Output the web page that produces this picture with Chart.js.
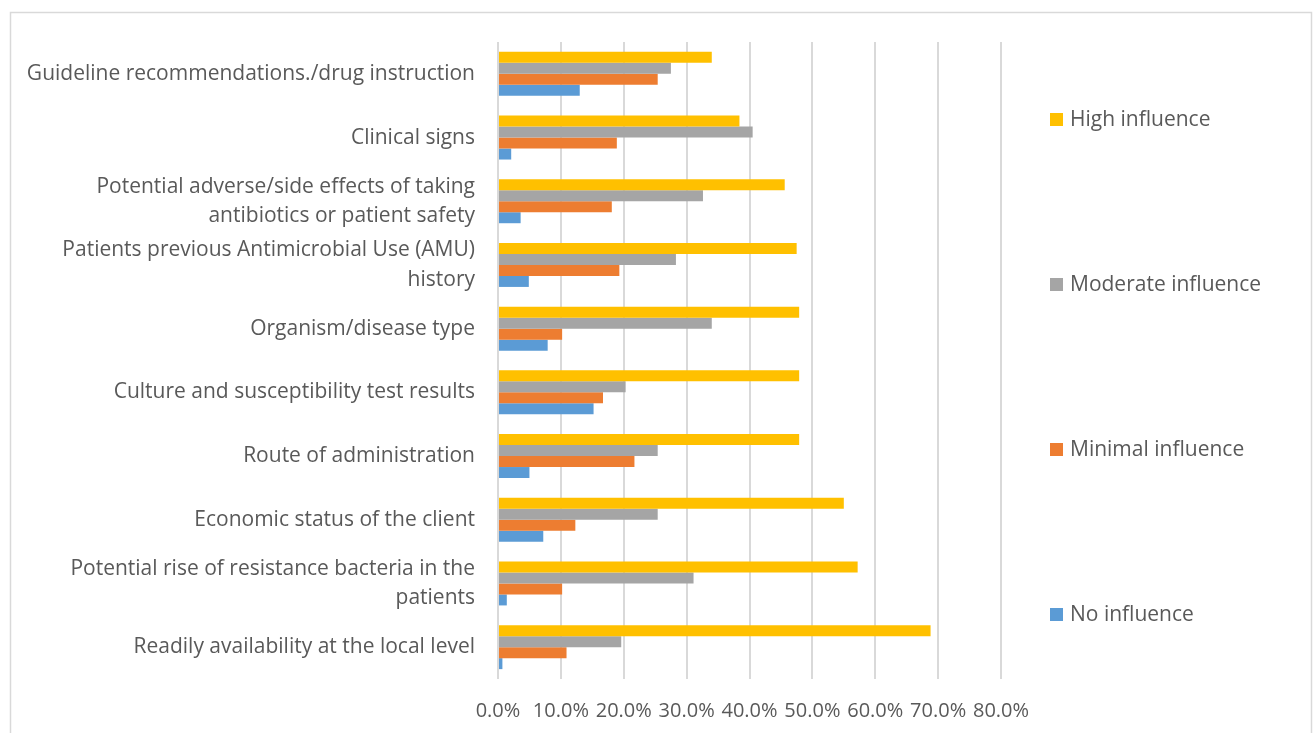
<!DOCTYPE html>
<html>
<head>
<meta charset="utf-8">
<script src="https://cdn.jsdelivr.net/npm/chart.js@4/dist/chart.umd.min.js"></script>
<style>
  html, body { margin: 0; padding: 0; background: #ffffff; }
  #wrap { width: 1314px; height: 733px; position: relative; }
</style>
</head>
<body>
<div id="wrap"><canvas id="c" width="1314" height="733"></canvas></div>
<script>
// Factors influencing antibiotic choice (share of respondents, %)
const categories = [
  'Guideline recommendations./drug instruction',
  'Clinical signs',
  ['Potential adverse/side effects of taking', 'antibiotics or patient safety'],
  ['Patients previous Antimicrobial Use (AMU)', 'history'],
  'Organism/disease type',
  'Culture and susceptibility test results',
  'Route of administration',
  'Economic status of the client',
  ['Potential rise of resistance bacteria in the', 'patients'],
  'Readily availability at the local level'
];

const highInfluence     = [34.0, 38.4, 45.6, 47.5, 47.9, 47.9, 47.9, 55.0, 57.2, 68.8];
const moderateInfluence = [27.5, 40.5, 32.6, 28.3, 34.0, 20.3, 25.4, 25.4, 31.1, 19.6];
const minimalInfluence  = [25.4, 18.9, 18.1, 19.3, 10.2, 16.7, 21.7, 12.3, 10.2, 10.9];
const noInfluence       = [13.0,  2.1,  3.6,  4.9,  7.9, 15.2,  5.0,  7.2,  1.4,  0.7];

const seriesNames = ['High influence', 'Moderate influence', 'Minimal influence', 'No influence'];
const xTicks = [0, 10, 20, 30, 40, 50, 60, 70, 80];

const FONT = '"Open Sans", "DejaVu Sans", sans-serif';
const TEXT = '#595959';

// Outer frame around the whole chart
const framePlugin = {
  id: 'frame',
  beforeDraw(chart) {
    const ctx = chart.ctx;
    ctx.save();
    ctx.fillStyle = '#ffffff';
    ctx.fillRect(0, 0, chart.width, chart.height);
    ctx.strokeStyle = '#d9d9d9';
    ctx.lineWidth = 1.5;
    ctx.strokeRect(10.5, 12.5, 1301, 800);
    ctx.restore();
  }
};

// Legend entries spread evenly down the right-hand side
const sideLegend = {
  id: 'sideLegend',
  afterDraw(chart) {
    const ctx = chart.ctx;
    const ds = chart.data.datasets;
    const top = 37, bottom = 697;
    const slot = (bottom - top) / ds.length;
    ctx.save();
    ctx.font = '21px ' + FONT;
    ctx.textBaseline = 'middle';
    ctx.textAlign = 'left';
    ds.forEach((d, i) => {
      const cy = top + slot * (i + 0.5);
      ctx.fillStyle = d.backgroundColor;
      ctx.fillRect(1050, cy - 6.5, 13, 13);
      ctx.fillStyle = TEXT;
      ctx.fillText(d.label, 1070, cy + 1);
    });
    ctx.restore();
  }
};

const colors = ['#FFC000', '#A5A5A5', '#ED7D31', '#5B9BD5'];
const values = [highInfluence, moderateInfluence, minimalInfluence, noInfluence];

new Chart(document.getElementById('c'), {
  type: 'bar',
  data: {
    labels: categories,
    datasets: seriesNames.map((name, i) => ({
      label: name,
      data: values[i],
      backgroundColor: colors[i],
      borderWidth: 0,
      barPercentage: 1.0,
      categoryPercentage: 0.69
    }))
  },
  options: {
    indexAxis: 'y',
    responsive: false,
    animation: false,
    devicePixelRatio: 1,
    layout: { padding: { left: 0, right: 313, top: 42, bottom: 0 } },
    plugins: {
      legend: { display: false },
      tooltip: { enabled: false }
    },
    scales: {
      x: {
        min: 0,
        max: 80,
        afterBuildTicks(scale) { scale.ticks = xTicks.map(v => ({ value: v })); },
        afterFit(scale) { scale.height = 54; },
        grid: { color: '#d9d9d9', lineWidth: 2, drawTicks: false },
        border: { display: false },
        ticks: {
          autoSkip: false,
          maxRotation: 0,
          padding: 20,
          color: TEXT,
          font: { family: FONT, size: 20 },
          callback: v => v.toFixed(1) + '%'
        }
      },
      y: {
        afterFit(scale) { scale.width = 498; },
        grid: { display: false, drawTicks: false },
        border: { display: false },
        ticks: {
          autoSkip: false,
          padding: 23,
          color: TEXT,
          font: { family: FONT, size: 21, lineHeight: 1.4 }
        }
      }
    }
  },
  plugins: [framePlugin, sideLegend]
});
</script>
</body>
</html>
